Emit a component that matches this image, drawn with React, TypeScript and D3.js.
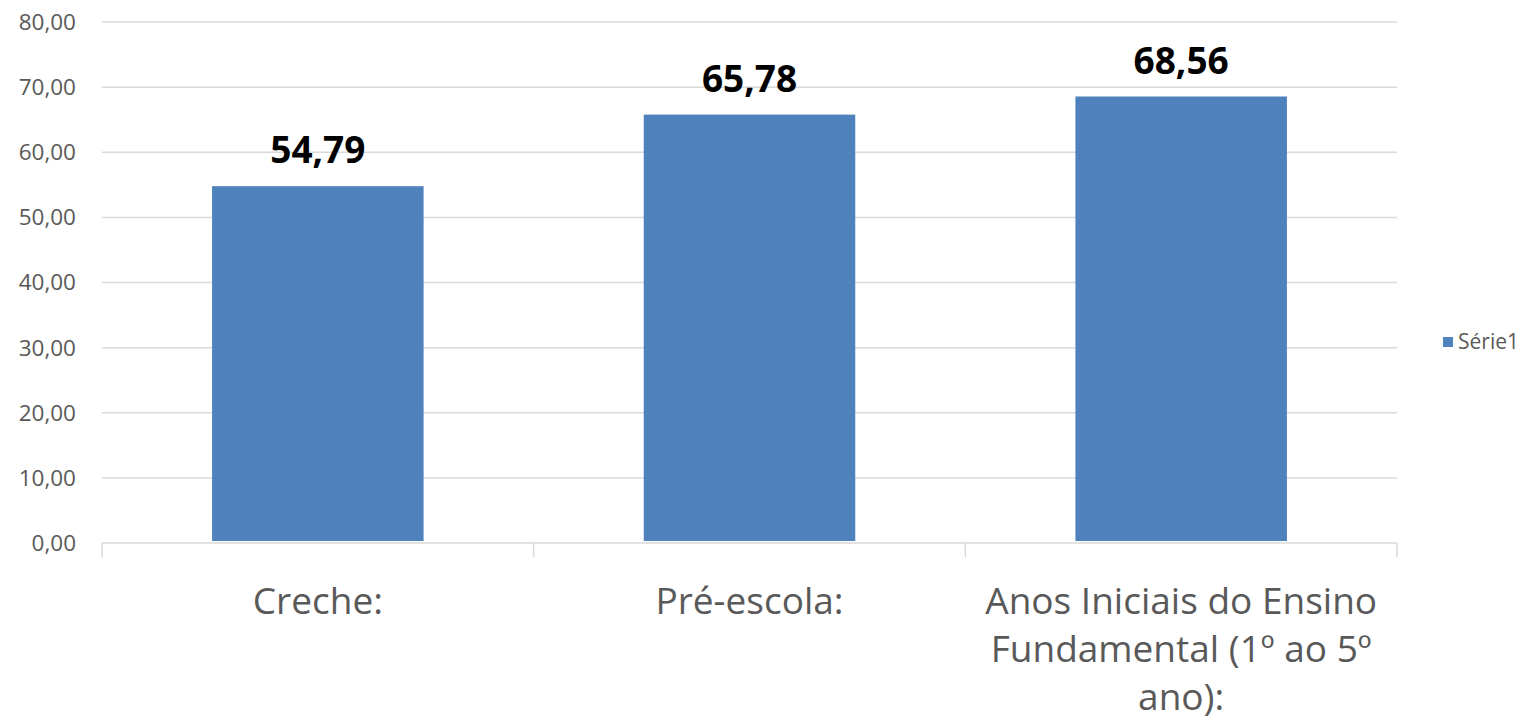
import React from "react";
import * as d3 from "d3";

const categories: string[][] = [
  ["Creche:"],
  ["Pré-escola:"],
  ["Anos Iniciais do Ensino", "Fundamental (1º ao 5º", "ano):"],
];
const values: number[] = [54.79, 65.78, 68.56];
const yTicks: number[] = [0, 10, 20, 30, 40, 50, 60, 70, 80];
const seriesName = "Série1";

const W = 1528;
const H = 721;
const plotLeft = 102;
const plotRight = 1397;
const yTop = 22;
const yBottom = 543;
const fmt = (v: number) => v.toFixed(2).replace(".", ",");

export default function App() {
  const keys = categories.map((_, i) => String(i));
  const x = d3.scaleBand<string>().domain(keys).range([plotLeft, plotRight]).paddingInner(0.51).paddingOuter(0.255);
  const xb = d3.scaleBand<string>().domain(keys).range([plotLeft, plotRight]);
  const y = d3.scaleLinear().domain([0, 80]).range([yBottom, yTop]);
  const font = "'Open Sans', 'Liberation Sans', sans-serif";
  return (
    <svg width={W} height={H} style={{ position: "absolute", left: 0, top: 0, background: "#fff" }}>
      {yTicks.map((t) => (
        <g key={t}>
          {t > 0 && (
            <line x1={plotLeft} x2={plotRight} y1={y(t)} y2={y(t)} stroke="#d9d9d9" strokeWidth={1.5} />
          )}
          <text x={76} y={y(t)} dy="0.35em" textAnchor="end" fontSize={22.5} fill="#595959" fontFamily={font}>
            {fmt(t)}
          </text>
        </g>
      ))}
      {values.map((v, i) => (
        <g key={i}>
          <rect x={x(String(i))} y={y(v)} width={x.bandwidth()} height={y(0) - y(v) - 2} fill="#4f81bd" />
          <text
            x={x(String(i))! + x.bandwidth() / 2}
            y={y(v) - 23}
            textAnchor="middle"
            fontSize={37}
            fontWeight="bold"
            fill="#000"
            fontFamily={font}
          >
            {fmt(v)}
          </text>
        </g>
      ))}
      <line x1={plotLeft} x2={plotRight} y1={yBottom} y2={yBottom} stroke="#d9d9d9" strokeWidth={1.5} />
      {[...keys.map((k) => xb(k)!), plotRight].map((px, i) => (
        <line key={i} x1={px} x2={px} y1={yBottom} y2={yBottom + 14} stroke="#d9d9d9" strokeWidth={1.5} />
      ))}
      {categories.map((lines, i) => (
        <text
          key={i}
          x={xb(String(i))! + xb.bandwidth() / 2}
          y={614}
          textAnchor="middle"
          fontSize={37}
          fill="#595959"
          fontFamily={font}
        >
          {lines.map((l, j) => (
            <tspan key={j} x={xb(String(i))! + xb.bandwidth() / 2} dy={j === 0 ? 0 : 48}>
              {l}
            </tspan>
          ))}
        </text>
      ))}
      <rect x={1443} y={337} width={10} height={10} fill="#4f81bd" />
      <text x={1458} y={342} dy="0.35em" fontSize={21} fill="#595959" fontFamily={font}>
        {seriesName}
      </text>
    </svg>
  );
}
